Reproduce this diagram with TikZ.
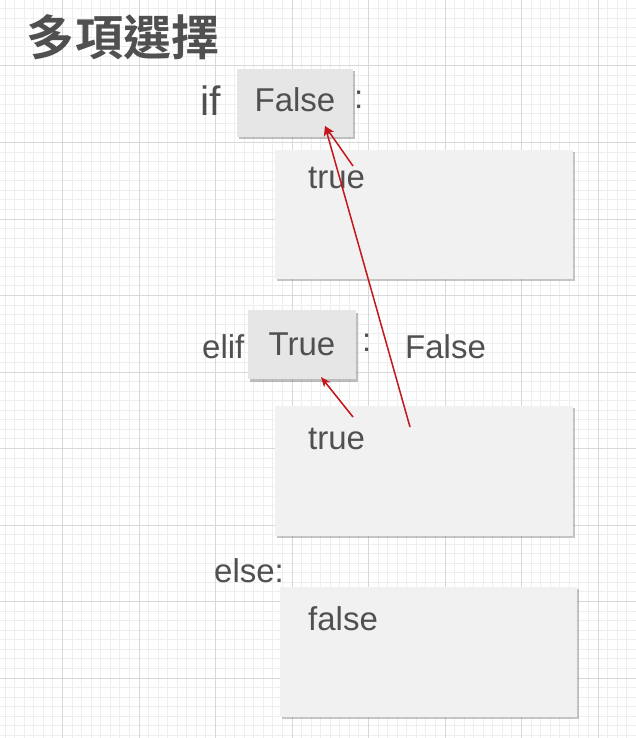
\documentclass[tikz,border=0pt]{standalone}
\usepackage{fontspec}
\setmainfont{Liberation Sans}
\newfontfamily\cjk{Noto Sans CJK TC}[BoldFont={Noto Sans CJK TC Bold}]
\usetikzlibrary{arrows.meta, shadows}
\definecolor{ink}{HTML}{505050}
\definecolor{gridmajor}{HTML}{D8D8D8}
\definecolor{gridminor}{HTML}{EEEEEE}
\definecolor{condfill}{HTML}{E6E6E6}
\definecolor{bodyfill}{HTML}{F1F1F1}
\definecolor{arrowred}{HTML}{C4161C}

\begin{document}
\begin{tikzpicture}[
        x=1pt, y=-1pt,
        >={Stealth[length=10pt, width=8pt, inset=3pt]},
        word/.style={text=ink, font=\fontsize{33}{36}\selectfont, inner sep=0pt, anchor=base west},
        cond/.style={fill=condfill, minimum width=116pt, minimum height=68pt, inner sep=0pt,
            drop shadow={opacity=0.5, shadow xshift=2pt, shadow yshift=-2.5pt}},
        body/.style={fill=bodyfill, minimum width=298pt, minimum height=129pt, inner sep=0pt,
            drop shadow={opacity=0.45, shadow xshift=1.5pt, shadow yshift=-2pt}},
        flow/.style={->, draw=arrowred, line width=1.5pt},
    ]

        \useasboundingbox (0,0) rectangle (636,738);
        \fill[white] (0,0) rectangle (636,738);

        % Draw the background grid
        \foreach \i in {0,...,68}
            \draw[gridminor, line width=1pt] ({-14+\i*9.5625},0) -- ({-14+\i*9.5625},738);
        \foreach \j in {0,...,78}
            \draw[gridminor, line width=1pt] (0,{-10.5+\j*9.5625}) -- (636,{-10.5+\j*9.5625});
        \foreach \i in {1,...,8}
            \draw[gridmajor, line width=1pt] ({-14+\i*76.5},0) -- ({-14+\i*76.5},738);
        \foreach \j in {1,...,9}
            \draw[gridmajor, line width=1pt] (0,{-10.5+\j*76.5}) -- (636,{-10.5+\j*76.5});

        % Title
        \node[text=ink, font=\cjk\bfseries\fontsize{48}{52}\selectfont, inner sep=0pt] (title) at (123,37) {多項選擇};

        % Draw the condition boxes and the branch bodies
        \node[cond] (ifcond) at (295,103) {};
        \node[body] (ifbody) at (424,214.5) {};
        \node[cond, minimum width=108pt, minimum height=69pt] (elifcond) at (302,344.5) {};
        \node[body, minimum height=130pt] (elifbody) at (424,471) {};
        \node[body, minimum width=297pt, minimum height=130pt] (elsebody) at (428.5,652) {};

        % Keywords and values
        \node[word, font=\fontsize{41}{44}\selectfont] (if) at (200,116) {if};
        \node[word, anchor=base] (ifval) at (295,112) {False};
        \node[word] (ifcolon) at (354,109) {:};
        \node[word] (iftrue) at (308,189) {true};

        \node[word] (elif) at (202,358) {elif};
        \node[word, anchor=base] (elifval) at (302,355) {True};
        \node[word] (elifcolon) at (362,351) {:};
        \node[word] (eliffalse) at (405,358) {False};
        \node[word] (eliftrue) at (308,449) {true};

        \node[word] (else) at (214,582) {else:};
        \node[word] (elsefalse) at (308,630) {false};

        % Arrows back to the conditions
        \coordinate (ifhit) at (325,126);
        \coordinate (elifhit) at (321,377);
        \coordinate (fromtrue) at (353,166);
        \coordinate (fromelif) at (410,427);
        \coordinate (fromtrue2) at (353,417);

        \draw[flow] (fromtrue) -- (ifhit);
        \draw[flow] (fromelif) -- (ifhit);
        \draw[flow] (fromtrue2) -- (elifhit);
    \end{tikzpicture}
\end{document}
